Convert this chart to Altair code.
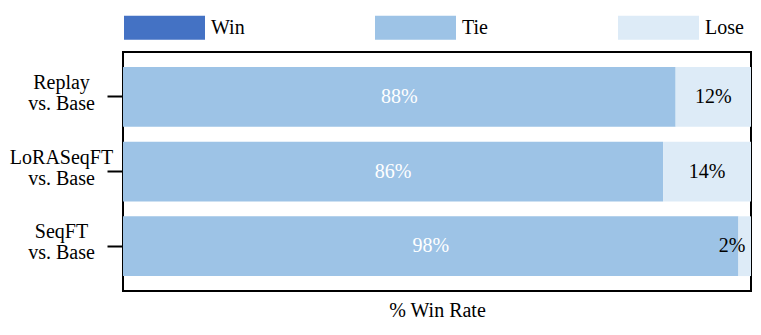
import altair as alt
import pandas as pd

comparisons = ["Replay\nvs. Base", "LoRASeqFT\nvs. Base", "SeqFT\nvs. Base"]
outcomes = ["Win", "Tie", "Lose"]
win = [0, 0, 0]
tie = [88, 86, 98]
lose = [12, 14, 2]
colors = ["#4472C4", "#9DC3E6", "#DDEBF7"]

rows = []
for i, c in enumerate(comparisons):
    for o, v in zip(outcomes, [win[i], tie[i], lose[i]]):
        rows.append({"comparison": c, "outcome": o, "value": v, "order": outcomes.index(o)})
df = pd.DataFrame(rows)

FONT = "Liberation Serif"
FS = 20

y_enc = alt.Y(
    "comparison:N",
    sort=comparisons,
    scale=alt.Scale(paddingInner=0.2, paddingOuter=0.2),
    axis=alt.Axis(
        title=None,
        labelExpr="split(datum.label, '\\n')",
        labelAlign="center",
        labelBaseline="middle",
        labelPadding=46,
        labelOffset=-14,
        labelFontSize=FS,
        labelLineHeight=21,
        labelColor="black",
        labelFont=FONT,
        tickSize=16,
        tickWidth=2,
        tickColor="black",
        domain=False,
    ),
)

base = alt.Chart(df).transform_stack(
    stack="value", groupby=["comparison"], as_=["x0", "x1"], sort=[alt.SortField("order")]
)

bars = base.mark_bar(strokeWidth=0).encode(
    x=alt.X(
        "x0:Q",
        scale=alt.Scale(domain=[0, 100], nice=False, zero=True),
        axis=alt.Axis(
            title="% Win Rate",
            labels=False,
            ticks=False,
            domain=False,
            grid=False,
            titleFont=FONT,
            titleFontSize=FS,
            titleFontWeight="normal",
            titleColor="black",
            titlePadding=9,
        ),
    ),
    x2="x1:Q",
    y=y_enc,
    color=alt.Color(
        "outcome:N",
        scale=alt.Scale(domain=outcomes, range=colors),
        legend=alt.Legend(
            title=None,
            orient="none",
            legendX=1,
            legendY=-65,
            direction="horizontal",
            symbolType="M-1,-0.296H1V0.296H-1Z",
            symbolSize=6561,
            symbolStrokeWidth=0,
            symbolOpacity=1,
            labelFont=FONT,
            labelFontSize=FS,
            labelColor="black",
            labelOffset=6,
            columnPadding=130,
        ),
    ),
)

texts = base.transform_filter("datum.value > 0").transform_calculate(
    mid="min((datum.x0 + datum.x1) / 2, 97)",
    label="datum.value + '%'",
).mark_text(font=FONT, fontSize=FS, baseline="middle", align="center").encode(
    x="mid:Q",
    y=alt.Y("comparison:N", sort=comparisons),
    text="label:N",
    color=alt.condition("datum.outcome == 'Lose'", alt.value("black"), alt.value("white")),
)

chart = (
    alt.layer(bars, texts)
    .properties(
        width=628,
        height=239,
        autosize=alt.AutoSizeParams(type="none"),
        padding={"left": 115, "top": 44, "right": 2, "bottom": 40},
    )
    .configure_view(stroke="black", strokeWidth=2)
    .configure_axis(grid=False)
)

chart.save("out.html", embed_options={"renderer": "svg", "actions": False})
